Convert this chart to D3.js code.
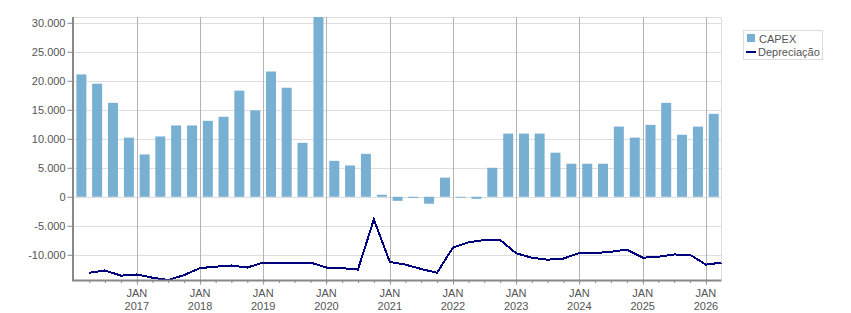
<!DOCTYPE html>
<html>
<head>
<meta charset="utf-8">
<script src="https://cdn.jsdelivr.net/npm/d3@7"></script>
<style>
  body { margin: 0; background: #fff; }
  svg text { font-family: "Liberation Sans", Arial, sans-serif; font-size: 11px; fill: #555; }
</style>
</head>
<body>
<div id="chart"></div>
<script>
// quarters from 2016 Q1 to 2026 Q1
var quarters = ["2016-Q1","2016-Q2","2016-Q3","2016-Q4","2017-Q1","2017-Q2","2017-Q3","2017-Q4",
  "2018-Q1","2018-Q2","2018-Q3","2018-Q4","2019-Q1","2019-Q2","2019-Q3","2019-Q4",
  "2020-Q1","2020-Q2","2020-Q3","2020-Q4","2021-Q1","2021-Q2","2021-Q3","2021-Q4",
  "2022-Q1","2022-Q2","2022-Q3","2022-Q4","2023-Q1","2023-Q2","2023-Q3","2023-Q4",
  "2024-Q1","2024-Q2","2024-Q3","2024-Q4","2025-Q1","2025-Q2","2025-Q3","2025-Q4","2026-Q1"];

var capex = [21100, 19500, 16200, 10200, 7300, 10400, 12300, 12300,
  13100, 13800, 18300, 14900, 21600, 18800, 9300, 31000,
  6200, 5400, 7400, 350, -700, -200, -1200, 3300,
  -150, -350, 5000, 10900, 10900, 10900, 7600, 5700,
  5700, 5700, 12100, 10200, 12400, 16200, 10700, 12100, 14300];

var depreciacao = [-13100, -12700, -13600, -13400, -13950, -14350, -13500, -12300,
  -12050, -11850, -12200, -11350, -11500, -11500, -11350, -12200,
  -12300, -12550, -3900, -11250, -11700, -12450, -13100, -8750,
  -7850, -7450, -7450, -9750, -10500, -10850, -10650, -9700,
  -9700, -9500, -9100, -10500, -10350, -9950, -10000, -11700, -11350];

var yearTicks = [2017, 2018, 2019, 2020, 2021, 2022, 2023, 2024, 2025, 2026];
var yTicks = [-10000, -5000, 0, 5000, 10000, 15000, 20000, 25000, 30000];
var seriesNames = ["CAPEX", "Depreciação"];

var W = 851, H = 313;
var plot = {left: 73.5, right: 721.5, top: 17, bottom: 280};

function qStart(q) {
  var p = q.split("-Q");
  return new Date(+p[0], (+p[1] - 1) * 3, 1);
}
function qEnd(q) {
  var d = qStart(q);
  return new Date(d.getFullYear(), d.getMonth() + 3, 1);
}

var data = quarters.map(function(q, i) {
  return {start: qStart(q), end: qEnd(q), capex: capex[i], dep: depreciacao[i]};
});

var svg = d3.select("#chart").append("svg").attr("width", W).attr("height", H);

var x = d3.scaleTime()
  .domain([data[0].start, data[data.length - 1].end])
  .range([plot.left, plot.right]);

var y = d3.scaleLinear()
  .domain([d3.min(depreciacao.concat(capex)), d3.max(capex.concat(depreciacao))])
  .range([plot.bottom, plot.top]);

var loc = d3.formatLocale({decimal: ",", thousands: ".", grouping: [3], currency: ["", ""], minus: "-"});
var fmt = loc.format(",d");

// horizontal grid
svg.append("g").selectAll("line").data(yTicks).enter().append("line")
  .attr("x1", plot.left).attr("x2", plot.right)
  .attr("y1", function(d) { return Math.round(y(d)) + 0.5; })
  .attr("y2", function(d) { return Math.round(y(d)) + 0.5; })
  .attr("stroke", "#dedede");

// frame top/right
svg.append("path")
  .attr("d", "M" + plot.left + "," + (plot.top + 0.5) + "H" + plot.right + "V" + plot.bottom)
  .attr("fill", "none").attr("stroke", "#dedede");

// vertical grid at JAN
var janDates = yearTicks.map(function(yr) { return new Date(yr, 0, 1); });
svg.append("g").selectAll("line").data(janDates).enter().append("line")
  .attr("x1", function(d) { return Math.round(x(d)) + 0.5; })
  .attr("x2", function(d) { return Math.round(x(d)) + 0.5; })
  .attr("y1", plot.top).attr("y2", plot.bottom + 5)
  .attr("stroke", "#b3b3b3");

// bars
svg.append("g").selectAll("rect").data(data).enter().append("rect")
  .attr("x", function(d) { return (x(d.start) + x(d.end)) / 2 - 5; })
  .attr("width", 10)
  .attr("y", function(d) { return y(Math.max(0, d.capex)); })
  .attr("height", function(d) { return Math.abs(y(d.capex) - y(0)); })
  .attr("fill", "#78b0d3");

// line
var line = d3.line()
  .x(function(d) { return x(d.end); })
  .y(function(d) { return y(d.dep); });

svg.append("path")
  .datum(data)
  .attr("d", line)
  .attr("fill", "none")
  .attr("stroke", "#00007f")
  .attr("stroke-width", 2)
  .attr("shape-rendering", "crispEdges");

// y axis
var yAxis = svg.append("g")
  .attr("transform", "translate(" + plot.left + ",0)")
  .call(d3.axisLeft(y).tickValues(yTicks).tickFormat(fmt).tickSize(6).tickPadding(2));
yAxis.select(".domain").remove();
yAxis.selectAll(".tick line").attr("stroke", "#888");
yAxis.selectAll("text").attr("font-family", null).attr("font-size", null).attr("fill", null);

svg.append("line")
  .attr("x1", plot.left - 0.5).attr("x2", plot.left - 0.5)
  .attr("y1", plot.top).attr("y2", plot.bottom + 1)
  .attr("stroke", "#888").attr("stroke-width", 2);

// x axis: quarter ticks
var quarterTicks = data.map(function(d) { return d.start; }).slice(1);
var xAxis = svg.append("g")
  .attr("transform", "translate(0," + plot.bottom + ")")
  .call(d3.axisBottom(x).tickValues(quarterTicks).tickSize(3).tickFormat(""));
xAxis.select(".domain").remove();
xAxis.selectAll(".tick line").attr("stroke", "#888");

svg.append("line")
  .attr("x1", plot.left - 1.5).attr("x2", plot.right)
  .attr("y1", plot.bottom + 0.5).attr("y2", plot.bottom + 0.5)
  .attr("stroke", "#888").attr("stroke-width", 2);

// x labels
var xl = svg.append("g").selectAll("text").data(janDates).enter().append("text")
  .attr("x", function(d) { return x(d); })
  .attr("text-anchor", "middle");
xl.append("tspan").attr("x", function(d) { return x(d); }).attr("y", 297).text("JAN");
xl.append("tspan").attr("x", function(d) { return x(d); }).attr("y", 310).text(function(d) { return d.getFullYear(); });

// legend
var lg = svg.append("g");
lg.append("rect").attr("x", 743.5).attr("y", 30.5).attr("width", 79).attr("height", 29)
  .attr("fill", "#fff").attr("stroke", "#dcdcdc");
lg.append("rect").attr("x", 747).attr("y", 34).attr("width", 8).attr("height", 8).attr("fill", "#78b0d3");
lg.append("text").attr("x", 759).attr("y", 42.5).text(seriesNames[0]);
lg.append("line").attr("x1", 746).attr("x2", 756).attr("y1", 52).attr("y2", 52)
  .attr("stroke", "#00007f").attr("stroke-width", 2);
lg.append("text").attr("x", 758).attr("y", 56).text(seriesNames[1]);
</script>
</body>
</html>
